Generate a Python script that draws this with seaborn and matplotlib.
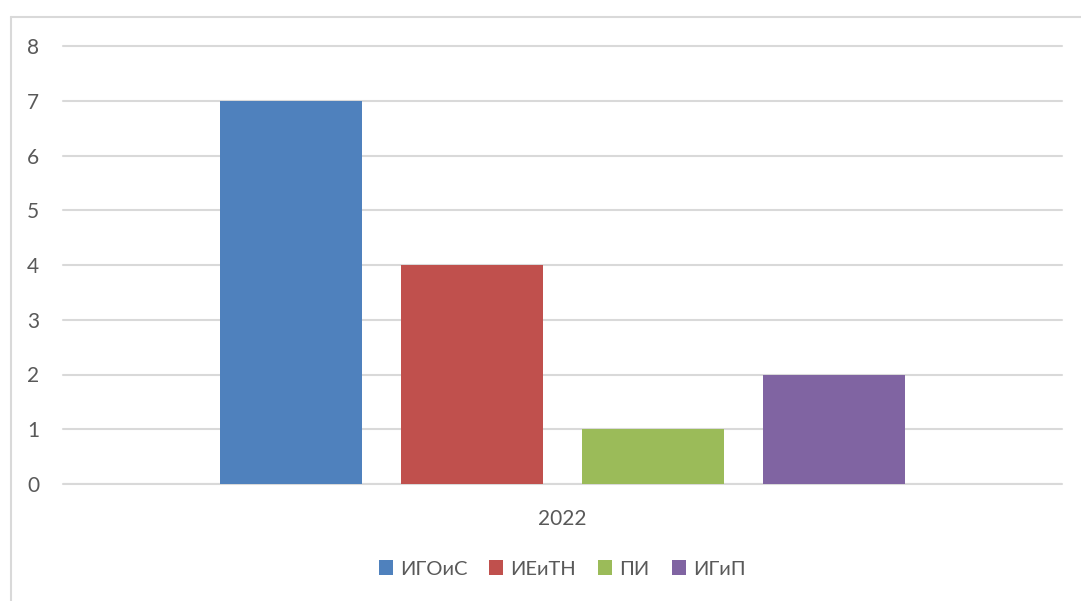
import matplotlib
matplotlib.use("Agg")
import matplotlib.pyplot as plt
from matplotlib.lines import Line2D
from matplotlib.patches import Patch
import seaborn as sns
import pandas as pd

years = ["2022"]
series = ["ИГОиС", "ИЕиТН", "ПИ", "ИГиП"]
values = [7, 4, 1, 2]
colors = ["#4f81bd", "#c0504d", "#9bbb59", "#8064a2"]
yticks = [0, 1, 2, 3, 4, 5, 6, 7, 8]

df = pd.DataFrame({"year": years * len(series), "series": series, "value": values})

sns.set_theme(style="white")
plt.rcParams["font.family"] = ["Lato", "DejaVu Sans"]

fig = plt.figure(figsize=(10.81, 6.01), dpi=100)
ax = fig.add_axes([63/1081, 1 - 484/601, (1062-63)/1081, (484-46)/601])

sns.barplot(data=df, x="year", y="value", hue="series", hue_order=series,
            palette=colors, width=0.726, gap=0.217, saturation=1, ax=ax,
            legend=False, errorbar=None, linewidth=0, edgecolor="none")

ax.set_xlim(-0.5, 0.5)
ax.set_ylim(0, 8)
ax.set_yticks(yticks)
ax.yaxis.grid(True, color="#d9d9d9", linewidth=1.5)
ax.set_axisbelow(True)
for s in ax.spines.values():
    s.set_visible(False)
ax.axhline(0, color="#d9d9d9", linewidth=1.5, zorder=0.5)
ax.tick_params(axis="both", length=0, labelsize=15, labelcolor="#595959")
ax.tick_params(axis="y", pad=17)
ax.tick_params(axis="x", pad=18)
ax.set_xlabel("")
ax.set_ylabel("")
for gl in ax.get_ygridlines():
    gl.set_clip_on(False)

handles = [Patch(facecolor=c, edgecolor="none") for c in colors]
fig.legend(handles, series, loc="center", bbox_to_anchor=(0.52, 1 - 569/601), ncol=4,
           frameon=False, fontsize=14.5, labelcolor="#595959",
           handlelength=0.7, handleheight=0.7, handletextpad=0.35, columnspacing=1.1)

# outer chart border (top and left visible)
fig.add_artist(Line2D([11/1081, 11/1081], [0, 1 - 17/601], color="#d9d9d9", linewidth=1.5,
                      transform=fig.transFigure))
fig.add_artist(Line2D([11/1081, 1], [1 - 17/601, 1 - 17/601], color="#d9d9d9", linewidth=1.5,
                      transform=fig.transFigure))

fig.savefig("out.png", dpi=100, facecolor="white")
